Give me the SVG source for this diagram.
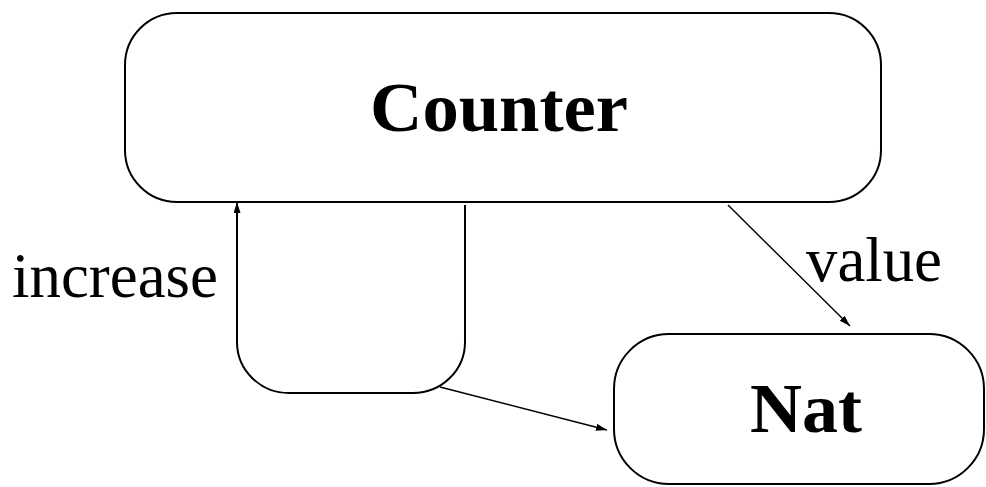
<svg xmlns="http://www.w3.org/2000/svg" width="986" height="487" viewBox="0 0 986 487">
<style>
.box{fill:none;stroke:#000;stroke-width:2}
.edge{fill:none;stroke:#000;stroke-width:1.4}
.loop{fill:none;stroke:#000;stroke-width:2}
.title{font-family:"Liberation Serif","DejaVu Serif",serif;font-weight:bold;font-size:70px;fill:#000}
.lbl{font-family:"Liberation Serif","DejaVu Serif",serif;font-size:63px;fill:#000}
</style>
<defs>
<marker id="ah" markerUnits="userSpaceOnUse" markerWidth="12" markerHeight="8" refX="11" refY="3.5" orient="auto">
<path d="M0,0 L11,3.5 L0,7 z" fill="#000"/>
</marker>
</defs>
<g id="counter">
<rect class="box" x="125" y="13" width="756" height="189" rx="52" ry="52"/>
<text class="title" x="499" y="131" text-anchor="middle" textLength="258" lengthAdjust="spacingAndGlyphs">Counter</text>
</g>
<g id="nat">
<rect class="box" x="614" y="334" width="370" height="150" rx="55" ry="55"/>
<text class="title" x="806" y="432" text-anchor="middle" textLength="112" lengthAdjust="spacingAndGlyphs">Nat</text>
</g>
<g id="connectors">
<path class="loop" d="M465,205 L465,342 A52,51 0 0 1 413,393 L290,393 A52,51 0 0 1 237,342 L237,202" marker-end="url(#ah)"/>
<line class="edge" x1="440" y1="387" x2="607" y2="430" marker-end="url(#ah)"/>
<line class="edge" x1="728" y1="205" x2="850" y2="326" marker-end="url(#ah)"/>
<text class="lbl" x="12" y="297" textLength="206" lengthAdjust="spacingAndGlyphs">increase</text>
<text class="lbl" x="806" y="281" textLength="136" lengthAdjust="spacingAndGlyphs">value</text>
</g>
</svg>
